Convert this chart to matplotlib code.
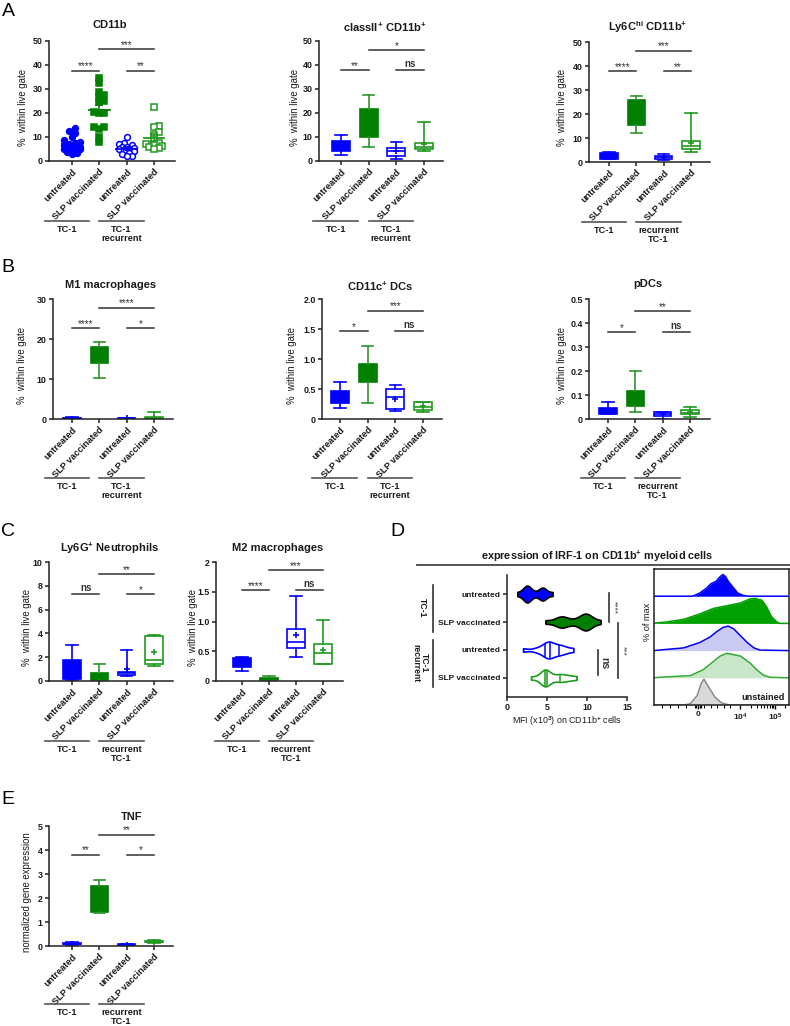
import numpy as np
import matplotlib
matplotlib.use('Agg')
import matplotlib.pyplot as plt
from matplotlib.lines import Line2D
from matplotlib.transforms import blended_transform_factory

# ---------------- data ----------------
categories = ['untreated', 'SLP vaccinated', 'untreated', 'SLP vaccinated']

# Panel A - CD11b (% within live gate), individual mice
cd11b_tc1_untreated = [13.8, 12.6, 11.5, 9.8, 8.6, 8.0, 7.6, 7.2, 7.0, 6.6,
                       6.2, 6.0, 5.8, 5.5, 5.2, 4.8, 4.3, 3.8, 3.3, 2.8]
cd11b_tc1_slp = [34.5, 32.5, 28.8, 27.5, 26.5, 25.0, 24.5, 20.5, 20.0, 19.8,
                 14.3, 14.0, 13.2, 10.0, 7.8]
cd11b_rec_untreated = [10.0, 7.5, 7.0, 6.5, 6.0, 5.8, 5.5, 5.2, 4.8, 4.5,
                       4.0, 3.5, 2.8, 2.2, 2.0]
cd11b_rec_slp = [22.3, 14.6, 14.2, 12.2, 11.0, 9.0, 7.5, 7.0, 6.5, 6.2, 6.0, 5.5, 5.0]

# Box statistics per group: [whisker low, Q1, median, Q3, whisker high, mean]
classII_cd11b = [[2.6, 4.0, 6.0, 8.2, 11.0, 6.2], [5.8, 10.0, 15.0, 21.7, 27.4, 16.0],
                 [1.0, 1.9, 4.0, 5.4, 7.9, 4.0], [4.0, 5.1, 5.7, 7.5, 16.3, 7.1]]
ly6chi_cd11b = [[1.1, 1.4, 2.5, 3.6, 4.0, 2.5], [11.9, 15.3, 20.0, 26.0, 27.6, 20.0],
                [0.7, 1.1, 1.9, 2.6, 3.5, 2.0], [4.3, 5.4, 6.8, 8.75, 20.3, 8.0]]
m1_macrophages = [[0.05, 0.1, 0.2, 0.35, 0.45, 0.2], [10.2, 13.9, 16.0, 18.1, 19.2, 16.0],
                  [0.05, 0.1, 0.15, 0.25, 0.35, 0.18], [0.0, 0.05, 0.2, 0.5, 1.7, 0.35]]
cd11c_dcs = [[0.19, 0.26, 0.36, 0.47, 0.61, 0.37], [0.27, 0.62, 0.75, 0.92, 1.22, 0.77],
             [0.13, 0.16, 0.37, 0.50, 0.57, 0.33], [0.11, 0.145, 0.195, 0.28, 0.29, 0.21]]
pdcs = [[0.02, 0.021, 0.03, 0.046, 0.071, 0.035], [0.031, 0.056, 0.08, 0.115, 0.2, 0.09],
        [0.0, 0.0125, 0.02, 0.028, 0.028, 0.02], [0.01, 0.019, 0.026, 0.036, 0.051, 0.028]]
ly6g_neutrophils = [[0.11, 0.17, 0.8, 1.76, 3.0, 1.0], [0.03, 0.08, 0.3, 0.67, 1.42, 0.4],
                    [0.45, 0.5, 0.7, 0.78, 2.6, 0.98], [1.26, 1.42, 1.79, 3.74, 3.85, 2.46]]
m2_macrophages = [[0.16, 0.23, 0.3, 0.39, 0.41, 0.3], [0.005, 0.017, 0.03, 0.045, 0.08, 0.03],
                  [0.41, 0.56, 0.66, 0.88, 1.43, 0.765], [0.28, 0.28, 0.475, 0.63, 1.02, 0.52]]
tnf_expression = [[0.04, 0.07, 0.1, 0.13, 0.15, 0.1], [1.37, 1.43, 2.0, 2.48, 2.73, 1.95],
                  [0.02, 0.04, 0.06, 0.08, 0.09, 0.06], [0.14, 0.16, 0.18, 0.2, 0.23, 0.18]]

# Significance: (left pair, right pair, top bracket) labels and (lower, upper) levels
sig_cd11b = (['****', '**', '***'], (37.6, 46.7))
sig_classII = (['**', 'ns', '*'], (37.8, 46.1))
sig_ly6chi = (['****', '**', '***'], (37.9, 46.4))
sig_m1 = (['****', '*', '****'], (22.7, 27.8))
sig_cd11c = (['*', 'ns', '***'], (1.46, 1.805))
sig_pdcs = (['*', 'ns', '**'], (0.3625, 0.45))
sig_ly6g = (['ns', '*', '**'], (7.29, 8.97))
sig_m2 = (['****', 'ns', '***'], (1.525, 1.86))
sig_tnf = (['**', '*', '**'], (3.8, 4.64))

# Panel D - IRF-1 MFI (x10^3) on CD11b+ cells
irf1_tc1_untreated = [1.3, 2.2, 2.4, 2.5, 2.6, 2.7, 3.3, 4.2, 4.4, 4.5, 4.7, 5.7]
irf1_tc1_slp = [4.8, 6.3, 6.7, 6.9, 7.3, 8.3, 9.3, 9.6, 9.8, 9.9, 10.1, 10.4, 11.7]
irf1_rec_untreated = [2.0, 3.6, 4.4, 4.8, 5.0, 5.2, 5.4, 5.6, 6.0, 6.5, 6.8, 7.3, 8.3]
irf1_rec_slp = [3.0, 4.2, 4.6, 4.7, 4.8, 4.9, 5.0, 5.5, 6.4, 6.6, 7.2, 7.8, 8.7]

# Panel D histograms (% of max) : position on biexponential axis (0-1) and height
hist_pos = {
    'untreated': [0.28, 0.30, 0.34, 0.39, 0.42, 0.46, 0.49, 0.51, 0.53, 0.55, 0.59, 0.62, 0.66, 0.70],
    'SLP': [0.02, 0.09, 0.22, 0.34, 0.44, 0.54, 0.64, 0.71, 0.75, 0.80, 0.835, 0.87, 0.91, 0.935],
    'rec_untreated': [0.04, 0.22, 0.34, 0.415, 0.465, 0.51, 0.55, 0.59, 0.64, 0.69, 0.74, 0.785],
    'rec_SLP': [0.04, 0.27, 0.365, 0.44, 0.49, 0.54, 0.59, 0.64, 0.71, 0.76, 0.81, 0.86],
    'unstained': [0.22, 0.27, 0.32, 0.35, 0.37, 0.40, 0.45, 0.50, 0.55],
}
hist_height = {
    'untreated': [0.0, 0.03, 0.12, 0.30, 0.45, 0.55, 0.72, 0.80, 0.72, 0.55, 0.30, 0.12, 0.03, 0.0],
    'SLP': [0.02, 0.05, 0.15, 0.35, 0.55, 0.65, 0.75, 0.90, 0.92, 0.85, 0.60, 0.25, 0.05, 0.0],
    'rec_untreated': [0.02, 0.10, 0.30, 0.50, 0.70, 0.85, 0.90, 0.80, 0.55, 0.30, 0.10, 0.02],
    'rec_SLP': [0.02, 0.08, 0.30, 0.60, 0.80, 0.90, 0.85, 0.80, 0.55, 0.30, 0.10, 0.02],
    'unstained': [0.0, 0.05, 0.35, 0.80, 0.95, 0.70, 0.30, 0.08, 0.01],
}
hist_tick_pos = [0.326, 0.637, 0.896]
hist_tick_labels = ['0', r'10$^{4}$', r'10$^{5}$']

# ---------------- style ----------------
W, H = 790, 1026
BLUE = '#0000ff'
GREEN = '#007f00'
GREEN_LINE = '#2e962e'
OPEN_GREEN = '#1f9a1f'
TXT = '#1a1a1a'
SIG = '#333333'
TICK_FS = 6.4
CAT_FS = 6.6
YL_FS = 6.9
TITLE_FS = 8.0

plt.rcParams.update({
    'font.family': ['Liberation Sans', 'DejaVu Sans'],
    'font.weight': 'bold',
    'mathtext.fontset': 'custom',
    'mathtext.rm': 'Liberation Sans:bold',
    'mathtext.bf': 'Liberation Sans:bold',
    'mathtext.it': 'Liberation Sans:bold',
    'axes.linewidth': 1.1,
    'axes.edgecolor': '#222222',
})

fig = plt.figure(figsize=(W / 100, H / 100), dpi=100)


def px_axes(left, right, top, bottom):
    return fig.add_axes([left / W, 1 - bottom / H, (right - left) / W, (bottom - top) / H])


def fig_text(x, y, s, **kw):
    fig.text(x / W, 1 - y / H, s, **kw)


def fig_line(x0, y0, x1, y1, **kw):
    fig.add_artist(Line2D([x0 / W, x1 / W], [1 - y0 / H, 1 - y1 / H], **kw))


def cat_axes(geom, ymax, yticks, yticklabels, ylabel, ylabel_px):
    left, right, top, bottom, cat0, cat3 = geom
    ax = px_axes(left, right, top, bottom)
    s = (cat3 - cat0) / 3
    ax.set_xlim((left - cat0) / s, (right - cat0) / s)
    ax.set_ylim(0, ymax)
    ax.spines[['top', 'right']].set_visible(False)
    ax.set_xticks(range(4))
    ax.set_xticklabels(categories, rotation=45, ha='right', rotation_mode='anchor',
                       fontsize=CAT_FS, color=TXT)
    ax.set_yticks(yticks)
    ax.set_yticklabels(yticklabels, fontsize=TICK_FS, color=TXT)
    ax.tick_params(length=3, width=1.1, pad=1.5, color='#222222')
    ax.set_ylabel(ylabel, fontsize=YL_FS, color=TXT)
    ax.yaxis.set_label_coords((ylabel_px - left) / (right - left), 0.45)
    return ax


def group_labels(ax, geom, labels, line_px=60, text_px=64):
    left, right, top, bottom, cat0, cat3 = geom
    hpx = bottom - top
    trans = blended_transform_factory(ax.transData, ax.transAxes)
    for (c0, c1), lab in zip([(0, 1), (2, 3)], labels):
        x0, x1 = c0 - 1.0, c1 - 0.38
        ax.plot([x0, x1], [-line_px / hpx] * 2, transform=trans, clip_on=False,
                color='#555555', lw=1.2)
        ax.text((x0 + x1) / 2, -text_px / hpx, lab, transform=trans, ha='center', va='top',
                fontsize=CAT_FS, color=TXT, linespacing=1.0)


def sig_bars(ax, sig):
    labels, (low, up) = sig
    for (x0, x1), y, lab in zip([(0, 1), (2, 3), (1, 3)], [low, low, up], labels):
        ax.plot([x0, x1], [y, y], color=SIG, lw=1.1, clip_on=False)
        if lab == 'ns':
            ax.annotate(lab, ((x0 + x1) / 2, y), xytext=(0, 1.0), textcoords='offset points',
                        ha='center', va='bottom', fontsize=7.0, color=SIG,
                        annotation_clip=False)
        else:
            ax.annotate(lab, ((x0 + x1) / 2, y), xytext=(0, -0.5), textcoords='offset points',
                        ha='center', va='bottom', fontsize=7.2, fontweight='normal', color=SIG,
                        annotation_clip=False)


def draw_boxes(ax, stats):
    styles = [
        dict(face=BLUE, edge=BLUE, whisk=BLUE, mean=False),
        dict(face=GREEN, edge=GREEN, whisk=GREEN_LINE, mean=False),
        dict(face='white', edge=BLUE, whisk=BLUE, mean=True),
        dict(face='white', edge=OPEN_GREEN, whisk=OPEN_GREEN, mean=True),
    ]
    for i, (st, sty) in enumerate(zip(stats, styles)):
        lo, q1, med, q3, hi, mean = st
        d = dict(whislo=lo, q1=q1, med=med, q3=q3, whishi=hi, mean=mean, fliers=[])
        ax.bxp([d], positions=[i], widths=0.64, capwidths=0.42, patch_artist=True,
               showmeans=sty['mean'], showfliers=False,
               boxprops=dict(facecolor=sty['face'], edgecolor=sty['edge'], linewidth=1.2),
               whiskerprops=dict(color=sty['whisk'], linewidth=1.2),
               capprops=dict(color=sty['whisk'], linewidth=1.2),
               medianprops=dict(color=sty['edge'], linewidth=1.2),
               meanprops=dict(marker='+', markeredgecolor=sty['edge'], markersize=4.5,
                              markeredgewidth=1.2),
               manage_ticks=False)


def swarm_offsets(vals, px_x, px_y, diam, max_off=0.36):
    vals = np.asarray(vals, float)
    placed = []
    offs = np.zeros(len(vals))
    step = diam * 0.45 / px_x
    kmax = int(max_off / step) * 2 + 1
    for idx in np.argsort(vals):
        v = vals[idx]
        best_c, best_d = 0.0, -1.0
        for k in range(kmax):
            c = ((k + 1) // 2) * step * (1 if k % 2 == 1 else -1)
            dmin = min([np.hypot((c - pc) * px_x, (v - pv) * px_y) for pc, pv in placed] + [1e9])
            if dmin >= 0.8 * diam:
                best_c = c
                break
            if dmin > best_d:
                best_c, best_d = c, dmin
        placed.append((best_c, v))
        offs[idx] = best_c
    return offs


YL = '%  within live gate'
TC1 = 'TC-1'
TC1_REC = 'TC-1\nrecurrent'
REC_TC1 = 'recurrent\nTC-1'

# ---------------- Panel A ----------------
gA1 = (49, 175, 41, 161, 72, 154)
ax = cat_axes(gA1, 50, range(0, 51, 10), [str(v) for v in range(0, 51, 10)], YL, 28)
groups = [cd11b_tc1_untreated, cd11b_tc1_slp, cd11b_rec_untreated, cd11b_rec_slp]
mstyles = [dict(marker='o', mfc=BLUE, mec=BLUE, c=BLUE),
           dict(marker='s', mfc=GREEN, mec=GREEN, c=GREEN),
           dict(marker='o', mfc='white', mec=BLUE, c=BLUE),
           dict(marker='s', mfc='white', mec=OPEN_GREEN, c=OPEN_GREEN)]
px_x = (gA1[5] - gA1[4]) / 3
px_y = (gA1[3] - gA1[2]) / 50
for i, (vals, ms) in enumerate(zip(groups, mstyles)):
    offs = swarm_offsets(vals, px_x, px_y, 5.6)
    ax.plot(i + offs, vals, linestyle='none', marker=ms['marker'], markersize=4.2,
            markerfacecolor=ms['mfc'], markeredgecolor=ms['mec'], markeredgewidth=1.1,
            clip_on=False, zorder=3)
    m = np.mean(vals)
    sem = np.std(vals, ddof=1) / np.sqrt(len(vals))
    ax.plot([i - 0.38, i + 0.38], [m, m], color=ms['c'], lw=1.3, zorder=4)
    ax.errorbar([i], [m], yerr=[sem], color=ms['c'], capsize=3, elinewidth=1.2,
                capthick=1.2, zorder=4)
sig_bars(ax, sig_cd11b)
group_labels(ax, gA1, [TC1, TC1_REC])
fig_text(110, 25, 'CD11b', ha='center', va='center', fontsize=TITLE_FS, color=TXT)

gA2 = (319, 443, 41, 161, 341, 424)
ax = cat_axes(gA2, 50, range(0, 51, 10), [str(v) for v in range(0, 51, 10)], YL, 300)
draw_boxes(ax, classII_cd11b)
sig_bars(ax, sig_classII)
group_labels(ax, gA2, [TC1, TC1_REC])
fig_text(385, 27, r'classII$^{+}$ CD11b$^{+}$', ha='center', va='center', fontsize=TITLE_FS, color=TXT)

gA3 = (589, 710, 42, 162, 609, 691)
ax = cat_axes(gA3, 50, range(0, 51, 10), [str(v) for v in range(0, 51, 10)], YL, 567)
draw_boxes(ax, ly6chi_cd11b)
sig_bars(ax, sig_ly6chi)
group_labels(ax, gA3, [TC1, REC_TC1])
fig_text(648, 27, r'Ly6C$^{hi}$ CD11b$^{+}$', ha='center', va='center', fontsize=TITLE_FS, color=TXT)

# ---------------- Panel B ----------------
gB1 = (53, 173, 299, 419, 72, 154)
ax = cat_axes(gB1, 30, [0, 10, 20, 30], ['0', '10', '20', '30'], YL, 27)
draw_boxes(ax, m1_macrophages)
sig_bars(ax, sig_m1)
group_labels(ax, gB1, [TC1, TC1_REC], 59, 63)
fig_text(111, 285, 'M1 macrophages', ha='center', va='center', fontsize=TITLE_FS, color=TXT)

gB2 = (322, 442, 299, 419, 340, 423)
ax = cat_axes(gB2, 2.0, [0, 0.5, 1.0, 1.5, 2.0], ['0', '0.5', '1.0', '1.5', '2.0'], YL, 297)
draw_boxes(ax, cd11c_dcs)
sig_bars(ax, sig_cd11c)
group_labels(ax, gB2, [TC1, TC1_REC], 59, 63)
fig_text(380, 286, r'CD11c$^{+}$ DCs', ha='center', va='center', fontsize=TITLE_FS, color=TXT)

gB3 = (589, 710, 299, 419, 608, 690)
ax = cat_axes(gB3, 0.5, [0, 0.1, 0.2, 0.3, 0.4, 0.5], ['0', '0.1', '0.2', '0.3', '0.4', '0.5'],
              YL, 567)
draw_boxes(ax, pdcs)
sig_bars(ax, sig_pdcs)
group_labels(ax, gB3, [TC1, REC_TC1], 59, 63)
fig_text(648, 284, 'pDCs', ha='center', va='center', fontsize=TITLE_FS, color=TXT)

# ---------------- Panel C ----------------
gC1 = (49, 173, 562, 681, 72, 154)
ax = cat_axes(gC1, 10, [0, 2, 4, 6, 8, 10], ['0', '2', '4', '6', '8', '10'], YL, 32)
draw_boxes(ax, ly6g_neutrophils)
sig_bars(ax, sig_ly6g)
group_labels(ax, gC1, [TC1, REC_TC1], 60, 64)
fig_text(110, 548, r'Ly6G$^{+}$ Neutrophils', ha='center', va='center', fontsize=TITLE_FS, color=TXT)

gC2 = (216, 343, 562, 681, 242, 323)
ax = cat_axes(gC2, 2, [0, 0.5, 1.0, 1.5, 2.0], ['0', '0.5', '1.0', '1.5', '2'], YL, 198)
draw_boxes(ax, m2_macrophages)
sig_bars(ax, sig_m2)
group_labels(ax, gC2, [TC1, REC_TC1], 60, 64)
fig_text(278, 548, 'M2 macrophages', ha='center', va='center', fontsize=TITLE_FS, color=TXT)

# ---------------- Panel D ----------------
fig_text(597, 556, r'expression of IRF-1 on CD11b$^{+}$ myeloid cells', ha='center',
         va='center', fontsize=7.8, color=TXT)
fig_line(417, 565, 790, 565, color='#444444', lw=1.3)

axv = px_axes(507, 627, 575, 697)
axv.set_xlim(0, 15)
axv.set_ylim(3.68, -0.68)
axv.spines[['top', 'right']].set_visible(False)
violin_data = [irf1_tc1_untreated, irf1_tc1_slp, irf1_rec_untreated, irf1_rec_slp]
try:
    parts = axv.violinplot(violin_data, positions=range(4), orientation='horizontal',
                           widths=0.6, showextrema=False, bw_method=0.35)
except TypeError:
    parts = axv.violinplot(violin_data, positions=range(4), vert=False,
                           widths=0.6, showextrema=False, bw_method=0.35)
vstyles = [(BLUE, 'black', False), (GREEN, 'black', False),
           ('white', BLUE, True), ('white', OPEN_GREEN, True)]
for i, (body, (fc, ec, lines)) in enumerate(zip(parts['bodies'], vstyles)):
    body.set_facecolor(fc)
    body.set_edgecolor(ec)
    body.set_alpha(1)
    body.set_linewidth(1.2)
    if lines:
        for qv in np.percentile(violin_data[i], [25, 50, 75]):
            ln, = axv.plot([qv, qv], [i - 0.45, i + 0.45], color=ec, lw=1.1)
            ln.set_clip_path(body.get_paths()[0], body.get_transform())
axv.set_yticks(range(4))
axv.set_yticklabels(categories, fontsize=6.0, color=TXT)
axv.set_xticks([0, 5, 10, 15])
axv.set_xticklabels(['0', '5', '10', '15'], fontsize=TICK_FS, color=TXT)
axv.tick_params(length=3, width=1.1, pad=1.5, color='#222222')
axv.set_xlabel(r'MFI (x10$^{3}$) on CD11b$^{+}$ cells', fontsize=6.4, color=TXT, labelpad=1.5)
# significance brackets
for x, y0, y1, lab, tx, fs in [(12.75, -0.05, 1.0, '****', 13.35, 6.0),
                                (13.9, 1.05, 3.0, '***', 14.5, 6.0),
                                (11.4, 2.0, 2.9, 'ns', 12.1, 7.5)]:
    axv.plot([x, x], [y0, y1], color='#333333', lw=1.2, clip_on=False)
    axv.text(tx, (y0 + y1) / 2, lab, rotation=270, ha='center', va='center', fontsize=fs,
             color='#333333', fontweight='normal' if lab != 'ns' else 'bold')
# group brackets on the left
fig_line(433, 585, 433, 632, color='#333333', lw=1.2)
fig_line(433, 640, 433, 687, color='#333333', lw=1.2)
fig_text(422, 608, TC1, rotation=270, ha='center', va='center', fontsize=6.2, color=TXT)
fig_text(420, 663, TC1_REC, rotation=270, ha='center', va='center', fontsize=6.2, color=TXT,
         linespacing=1.0)

# histograms
axh = px_axes(654, 789, 569, 705)
axh.set_xlim(0, 1)
axh.set_ylim(0, 5)
hist_rows = [('untreated', BLUE, BLUE), ('SLP', '#00a000', '#00a000'),
             ('rec_untreated', '#c9c9f4', BLUE), ('rec_SLP', '#c8e6c8', '#33aa33'),
             ('unstained', '#d9d9d9', '#8a8a8a')]
for r, (key, fc, ec) in enumerate(hist_rows):
    base = 4 - r
    u = np.r_[0.0, hist_pos[key], 1.0]
    h = np.r_[0.0, hist_height[key], 0.0]
    axh.fill_between(u, base, base + h * 1.0, color=fc, lw=0)
    axh.plot(u, base + h, color=ec, lw=1.1)
axh.text(0.97, 0.12, 'unstained', ha='right', va='bottom', fontsize=6.6, color=TXT)
axh.set_yticks([])
axh.set_xticks(hist_tick_pos)
axh.set_xticklabels(hist_tick_labels, fontsize=6.0, color=TXT)
minor = [0.637 + 0.259 * np.log10(k) for k in range(2, 10)] + \
        [0.896 + 0.259 * np.log10(k) for k in range(2, 5)] + \
        [0.3, 0.31, 0.34, 0.35, 0.37, 0.42, 0.47, 0.52, 0.56] + \
        [0.06, 0.12, 0.18, 0.24]
axh.set_xticks([m for m in minor if m < 1], minor=True)
axh.tick_params(axis='x', which='major', length=3, width=1, pad=1.5)
axh.tick_params(axis='x', which='minor', length=1.8, width=0.8)
fig_text(648, 622, '% of max', rotation=90, ha='center', va='center', fontsize=6.6,
         color=TXT, fontweight='normal')

# ---------------- Panel E ----------------
gE = (49, 173, 826, 946, 72, 154)
ax = cat_axes(gE, 5, range(0, 6), [str(v) for v in range(0, 6)], 'normalized gene expression', 32)
draw_boxes(ax, tnf_expression)
sig_bars(ax, sig_tnf)
group_labels(ax, gE, [TC1, 'recurrent\nTC-1'], 58, 62)
fig_text(132, 817, 'TNF', ha='center', va='center', fontsize=TITLE_FS, color=TXT)

# panel letters
for lab, x, y in [('A', 8, 12), ('B', 8, 268), ('C', 8, 532), ('D', 397, 532), ('E', 8, 800)]:
    fig_text(x, y, lab, ha='center', va='center', fontsize=14, fontweight='normal', color='black')

fig.savefig('out.png', dpi=100)
